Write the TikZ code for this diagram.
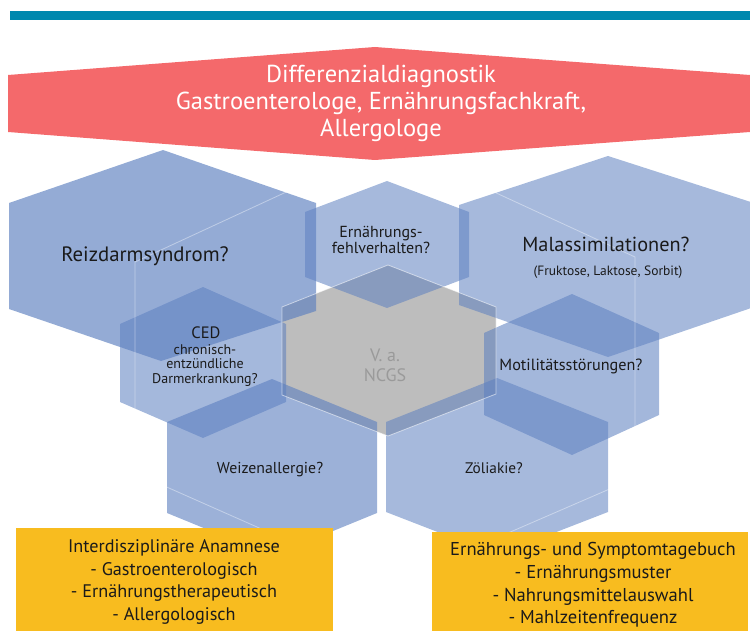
\documentclass[tikz,border=0pt]{standalone}
\usepackage{fontspec}
\setmainfont{PT Sans}
\definecolor{barteal}{HTML}{0088AE}
\definecolor{bannerred}{HTML}{F4696B}
\definecolor{hexblue}{RGB}{93,128,192}
\definecolor{hexgrey}{HTML}{BDBDBD}
\definecolor{boxyellow}{HTML}{F8BC1F}
\definecolor{lblblack}{HTML}{1A1A1A}
\definecolor{greytext}{HTML}{9A9A9A}
\tikzset{
  hexa/.style={fill=hexblue, fill opacity=#1},
  faint/.style={draw=white, draw opacity=0.4, line width=0.8pt},
  lbl/.style={text=lblblack, align=center, inner sep=0pt},
  boxtext/.style={text=lblblack, align=center, inner sep=0pt},
}
\begin{document}
\begin{tikzpicture}[x=1pt,y=-1pt]
\useasboundingbox (0,0) rectangle (750,631);
% top bar
\fill[barteal] (10,11) rectangle (750,20);
% grey centre hexagon (opaque, below the blue ones)
\fill[hexgrey] (388,265) -- (496,307) -- (496,394) -- (388,436) -- (282,395) -- (282,307) -- cycle;
% blue hexagons
\fill[hexa=0.66] (163,150) -- (316,203) -- (316,311) -- (161,361) -- (9,309) -- (9,203) -- cycle;
\fill[hexa=0.55] (387,181) -- (469,212) -- (469,277) -- (387,308) -- (305,277) -- (305,212) -- cycle;
\fill[hexa=0.55] (608,156) -- (757,204) -- (757,306) -- (608,357) -- (459,305) -- (459,205) -- cycle;
\fill[hexa=0.56] (203,287) -- (286,324) -- (286,402) -- (203,438) -- (120,402) -- (120,324) -- cycle;
\fill[hexa=0.57] (572,294) -- (659,333) -- (659,415) -- (572,455) -- (484,415) -- (484,333) -- cycle;
\fill[hexa=0.61] (272,379) -- (377,422) -- (377,513) -- (272,556) -- (167,513) -- (167,422) -- cycle;
\fill[hexa=0.55] (497,378) -- (608,422) -- (608,512) -- (497,555) -- (386,512) -- (386,422) -- cycle;
% faint outline of the large back hexagon
\draw[faint] (390,144) -- (635,257) -- (635,478) -- (388,585) -- (135,473) -- (135,262) -- cycle;
% light edge of the grey hexagon
\draw[draw=white, draw opacity=0.55, line width=0.8pt] (388,265) -- (496,307) -- (496,394) -- (388,436) -- (282,395) -- (282,307) -- cycle;
% banner
\fill[bannerred] (8,75) -- (375,47) -- (750,75) -- (750,132) -- (375,160) -- (8,132) -- cycle;
\node[text=white, align=center, inner sep=0pt, font=\fontsize{24.5}{27}\selectfont] (banner) at (381,103)
  {Differenzialdiagnostik\\Gastroenterologe, Ernährungsfachkraft,\\Allergologe};
% yellow boxes
\fill[boxyellow] (16,528) rectangle (333,631);
\fill[boxyellow] (432,532) rectangle (748,631);
% labels
\node[lbl, font=\fontsize{20.8}{24}\selectfont] (reiz) at (145,256) {Reizdarmsyndrom?};
\node[lbl, font=\fontsize{16}{16.5}\selectfont] (ern) at (381,240) {Ernährungs-\\fehlverhalten?};
\node[lbl, font=\fontsize{20.3}{24}\selectfont] (mal) at (606,244) {Malassimilationen?};
\node[lbl, font=\fontsize{13.5}{15}\selectfont] (malsub) at (608,272) {(Fruktose, Laktose, Sorbit)};
\node[lbl, font=\fontsize{16.5}{18}\selectfont] (ced) at (206,333) {CED};
\node[lbl, font=\fontsize{14}{14.7}\selectfont] (cedsub) at (205,365.5) {chronisch-\\entzündliche\\Darmerkrankung?};
\node[text=greytext, align=center, inner sep=0pt, font=\fontsize{18}{20}\selectfont] (ncgs) at (385,365) {V. a.\\NCGS};
\node[lbl, font=\fontsize{16.2}{18}\selectfont] (moti) at (571,366) {Motilitätsstörungen?};
\node[lbl, font=\fontsize{15.8}{18}\selectfont] (weiz) at (270,470) {Weizenallergie?};
\node[lbl, font=\fontsize{15.3}{18}\selectfont] (zoel) at (494,468) {Zöliakie?};
\node[boxtext, font=\fontsize{18.2}{22.7}\selectfont] (anam) at (174,582) {Interdisziplinäre Anamnese\\- Gastroenterologisch\\- Ernährungstherapeutisch\\- Allergologisch};
\node[boxtext, font=\fontsize{18.6}{22.7}\selectfont] (tage) at (593,585) {Ernährungs- und Symptomtagebuch\\- Ernährungsmuster\\- Nahrungsmittelauswahl\\- Mahlzeitenfrequenz};
\end{tikzpicture}
\end{document}
